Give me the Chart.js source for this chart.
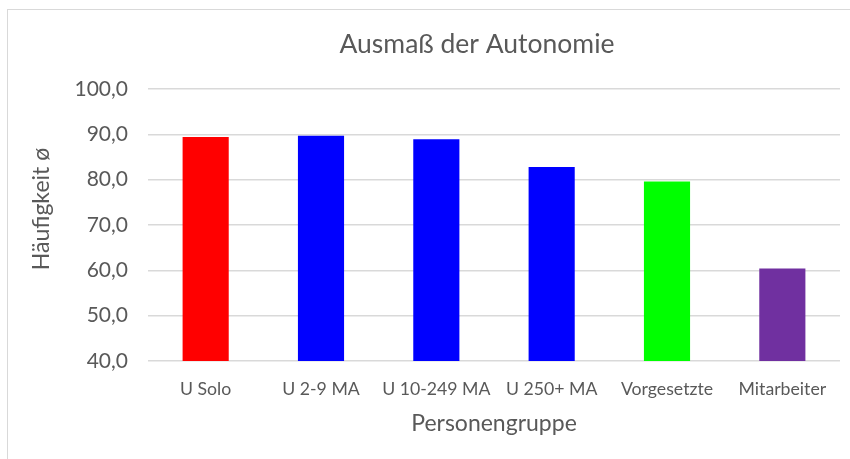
<!DOCTYPE html>
<html>
<head>
<meta charset="utf-8">
<script src="https://cdn.jsdelivr.net/npm/chart.js@4"></script>
<style>
  html, body { margin: 0; padding: 0; background: #fff; }
  #wrap { position: relative; width: 850px; height: 459px; overflow: hidden; }
  #frame { position: absolute; left: 7px; top: 9px; width: 900px; height: 500px;
           border-top: 1px solid #d9d9d9; border-left: 1px solid #d9d9d9; }
  canvas { position: absolute; left: 0; top: 0; }
</style>
</head>
<body>
<div id="wrap">
  <div id="frame"></div>
  <canvas id="chart" width="850" height="459"></canvas>
</div>
<script>
// Kategorien und Werte
const groups = ['U Solo', 'U 2-9 MA', 'U 10-249 MA', 'U 250+ MA', 'Vorgesetzte', 'Mitarbeiter'];
const values = [89.4, 89.7, 88.9, 82.8, 79.6, 60.4];
const barColors = ['#ff0000', '#0000ff', '#0000ff', '#0000ff', '#00ff00', '#7030a0'];
const yMin = 40;
const yMax = 100;
const yStep = 10;
const chartTitle = 'Ausmaß der Autonomie';
const yTitle = 'Häufigkeit ø';

const fontFamily = 'Lato, "Open Sans", sans-serif';
const grey = '#595959';

// Titel und y-Achsentitel wie im Excel-Original platziert (nicht ganz mittig)
const titlesPlugin = {
    id: 'titles',
    afterDraw(chart) {
        const ctx = chart.ctx;
        ctx.save();
        ctx.fillStyle = grey;
        ctx.textAlign = 'center';
        ctx.textBaseline = 'middle';
        ctx.font = '26.5px ' + fontFamily;
        ctx.fillText(chartTitle, 477, 44);
        ctx.translate(42, 209);
        ctx.rotate(-Math.PI / 2);
        ctx.font = '23px ' + fontFamily;
        ctx.fillText(yTitle, 0, 0);
        ctx.restore();
    }
};

new Chart(document.getElementById('chart'), {
    type: 'bar',
    data: {
        labels: groups,
        datasets: [{
            data: values,
            backgroundColor: barColors,
            borderWidth: 0,
            categoryPercentage: 1,
            barPercentage: 0.4
        }]
    },
    options: {
        responsive: false,
        animation: false,
        layout: { padding: { left: 10, right: 10, top: 89, bottom: 20 } },
        plugins: {
            legend: { display: false },
            tooltip: { enabled: false },
            title: { display: false }
        },
        scales: {
            x: {
                grid: { display: false, drawTicks: false },
                border: { display: false },
                ticks: { color: grey, font: { family: fontFamily, size: 17.7 }, padding: 18, maxRotation: 0 },
                title: {
                    display: true,
                    text: 'Personengruppe',
                    color: grey,
                    font: { family: fontFamily, size: 23 },
                    padding: { top: 0, bottom: 2 }
                },
                afterFit: (s) => { s.height = 78; }
            },
            y: {
                min: yMin,
                max: yMax,
                grid: { color: '#d9d9d9', lineWidth: 1.5, drawTicks: false },
                border: { display: false },
                ticks: {
                    stepSize: yStep,
                    color: grey,
                    padding: 20,
                    font: { family: fontFamily, size: 21 },
                    callback: (v) => v.toFixed(1).replace('.', ',')
                },
                afterFit: (s) => { s.width = 138; }
            }
        }
    },
    plugins: [titlesPlugin]
});
</script>
</body>
</html>
